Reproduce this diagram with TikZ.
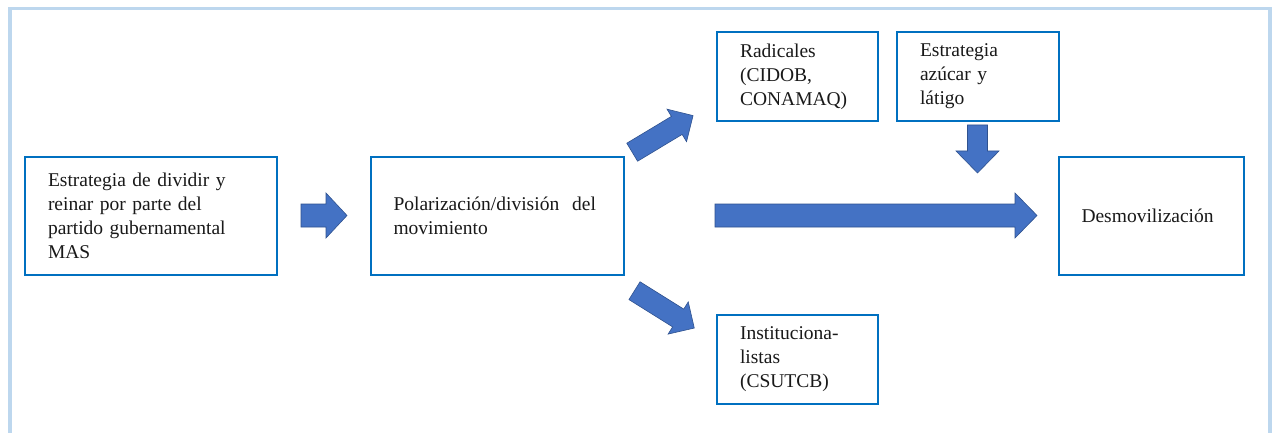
\documentclass[tikz,border=0pt]{standalone}
\usepackage{fontspec}
\setmainfont{Liberation Serif}
\definecolor{boxblue}{HTML}{0070C0}
\definecolor{frameblue}{HTML}{BDD7EE}
\definecolor{arrfill}{HTML}{4472C4}
\definecolor{arrline}{HTML}{2F528F}
% #1 x, #2 y, #3 angle, #4 length, #5 shaft half width, #6 head half width, #7 head length
\newcommand\blkarrow[7]{%
  \draw[barrow, shift={(#1,#2)}, rotate=#3]
    (0,#5) -- ({#4-#7},#5) -- ({#4-#7},#6) -- (#4,0) -- ({#4-#7},-#6)
    -- ({#4-#7},-#5) -- (0,-#5) -- cycle;}
\begin{document}
\begin{tikzpicture}[x=1pt,y=-1pt,
  box/.style={draw=boxblue, line width=2pt, fill=white, rectangle,
    inner xsep=23pt, inner ysep=0pt, align=left,
    font=\fontsize{19.5}{24}\selectfont, text=black!90},
  barrow/.style={fill=arrfill, draw=arrline, line width=0.6pt, line join=miter},
  frame/.style={draw=frameblue, line width=3.5pt}]
\useasboundingbox (0,0) rectangle (1277,433);
\clip (0,0) rectangle (1277,433);
\fill[white] (0,0) rectangle (1277,433);
\draw[frame] (10,8.5) rectangle (1270,460);

\node[box, minimum width=252, minimum height=118, text width=206] (a) at (151,216)
  {Estrategia de dividir y\\reinar por parte del\\partido gubernamental\\MAS};
\node[box, minimum width=253, minimum height=118, text width=207] (b) at (497,216)
  {Polarización/división\ \ del\\movimiento};
\node[box, minimum width=161, minimum height=89, text width=115] (r) at (797.5,76.5)
  {Radicales\\(CIDOB,\\CONAMAQ)};
\node[box, minimum width=161.5, minimum height=89, text width=115.5] (e) at (977.75,76.5)
  {Estrategia\\azúcar y\\látigo};
\node[box, minimum width=185.5, minimum height=118, text width=139.5] (d) at (1151.25,216)
  {Desmovilización};
\node[box, minimum width=161, minimum height=89, text width=115] (i) at (797.5,359.5)
  {Instituciona-\\listas\\(CSUTCB)};

% block arrows
\blkarrow{301}{215.5}{0}{46}{11.5}{22.5}{21}
\blkarrow{715}{215.5}{0}{322}{11.5}{22.5}{22}
\blkarrow{977.5}{125}{-90}{48}{10}{21.5}{22}
\blkarrow{632.2}{152.2}{31}{71}{10.5}{19}{19}
\blkarrow{634.5}{290.7}{-32}{70.5}{10.5}{19}{19}
\end{tikzpicture}
\end{document}
